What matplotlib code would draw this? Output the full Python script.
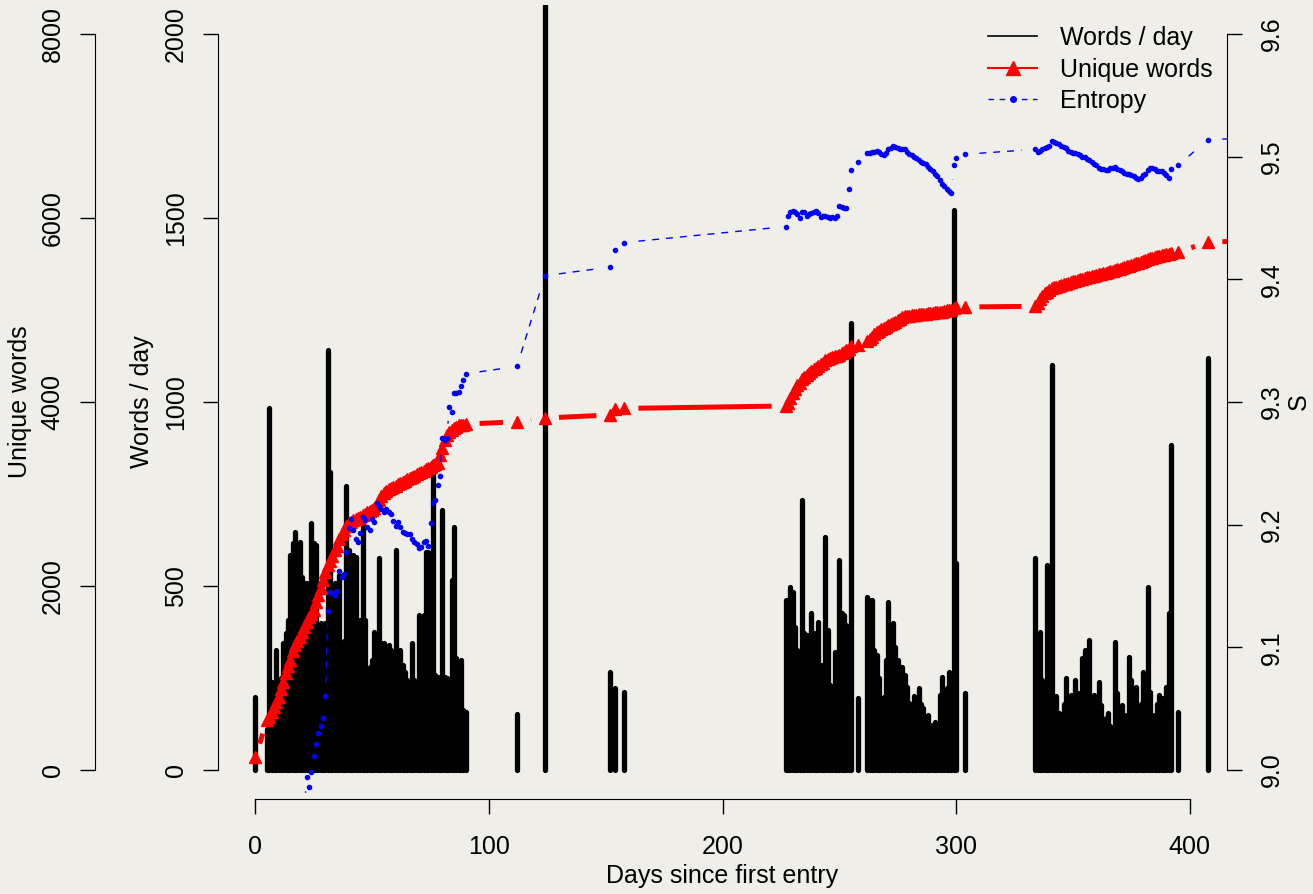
import numpy as np
import matplotlib
matplotlib.use("Agg")
import matplotlib.pyplot as plt
from matplotlib.collections import LineCollection
from matplotlib.lines import Line2D

# entry days (days since first entry)
days = (
    [0, 5, 6, 7, 8, 9,
     10, 11, 12, 13, 14, 15, 16, 17, 18, 19,
     20, 21, 22, 23, 24, 25, 26, 27, 28, 29,
     30, 31, 32, 33, 34, 35, 36, 37, 38, 39,
     40, 41, 42, 43, 44, 45, 46, 47, 48, 49,
     50, 51, 52, 53, 54, 55, 56, 57, 58, 59,
     60, 61, 62, 63, 64, 65, 66, 67, 68, 69,
     70, 71, 72, 73, 74, 75, 76, 77, 78, 79,
     80, 81, 82, 83, 84, 85, 86, 87, 88, 89, 90]
    + [112, 124, 152, 154, 158]
    + [227, 228, 229, 230, 231, 232, 233, 234, 235, 236,
       237, 238, 239, 240, 241, 242, 243, 244, 245, 246,
       247, 248, 249, 250, 251, 252, 253, 254, 255,
       258,
       262, 263, 264, 265, 266, 267, 268, 269, 270, 271,
       272, 273, 274, 275, 276, 277, 278, 279, 280, 281,
       282, 283, 284, 285, 286, 287, 288, 289, 290, 291,
       292, 293, 294, 295, 296, 297, 298, 299, 300,
       304]
    + [334, 335, 336, 337, 338, 339, 340, 341, 342, 343,
       344, 345, 346, 347, 348, 349, 350, 351, 352, 353,
       354, 355, 356, 357, 358, 359, 360, 361, 362, 363,
       364, 365, 366, 367, 368, 369, 370, 371, 372, 373,
       374, 375, 376, 377, 378, 379, 380, 381, 382, 383,
       384, 385, 386, 387, 388, 389, 390, 391, 392,
       395, 408, 425]
)

words = (
    [198, 110, 984, 240, 160, 326,
     118, 250, 345, 372, 408, 584, 617, 647, 524, 620,
     524, 508, 508, 300, 671, 617, 611, 367, 399, 280,
     399, 1141, 810, 260, 508, 320, 530, 300, 350, 772,
     598, 330, 584, 579, 245, 408, 666, 408, 250, 280,
     299, 375, 260, 576, 345, 345, 334, 340, 326, 250,
     598, 285, 326, 285, 266, 245, 200, 345, 245, 163,
     421, 416, 421, 592, 592, 300, 837, 258, 253, 230,
     706, 253, 250, 200, 516, 660, 304, 250, 299, 163, 158]
    + [152, 2300, 266, 223, 212]
    + [462, 386, 497, 484, 389, 326, 321, 734, 372, 367,
       300, 427, 372, 367, 402, 285, 231, 633, 380, 231,
       149, 321, 250, 571, 427, 421, 394, 280, 1215,
       196,
       470, 462, 462, 326, 312, 250, 182, 198, 300, 457,
       362, 399, 335, 300, 280, 280, 258, 226, 182, 168,
       200, 190, 223, 180, 168, 141, 150, 122, 122, 130,
       117, 204, 253, 212, 223, 266, 196, 1522, 562,
       209]
    + [576, 300, 375, 245, 230, 557, 260, 1100, 171, 200,
       155, 117, 180, 250, 145, 204, 190, 245, 209, 149,
       304, 326, 200, 353, 149, 204, 180, 239, 177, 117,
       141, 155, 120, 49, 348, 209, 160, 177, 149, 149,
       307, 245, 209, 226, 145, 180, 266, 209, 497, 212,
       149, 149, 180, 204, 196, 150, 226, 427, 883,
       158, 1120, 300]
)

unique_words = (
    [141, 540, 576, 630, 680, 740,
     790, 880, 960, 1050, 1130, 1190, 1290, 1360, 1400, 1446,
     1500, 1554, 1610, 1663, 1700, 1735, 1830, 1900, 1975, 2060,
     2150, 2230, 2275, 2330, 2395, 2440, 2510, 2570, 2610, 2650,
     2680, 2700, 2715, 2730, 2742, 2755, 2768, 2785, 2800, 2812,
     2825, 2850, 2895, 2940, 2980, 3010, 3035, 3055, 3070, 3080,
     3092, 3105, 3118, 3130, 3145, 3160, 3174, 3188, 3200, 3215,
     3228, 3242, 3255, 3268, 3280, 3295, 3310, 3322, 3337, 3424,
     3500, 3587, 3640, 3674, 3695, 3717, 3730, 3745, 3750, 3755, 3760]
    + [3785, 3826, 3859, 3924, 3930]
    + [3957, 3990, 4040, 4098, 4140, 4180, 4210, 4250, 4270, 4295,
       4315, 4335, 4355, 4375, 4395, 4410, 4425, 4457, 4470, 4480,
       4488, 4495, 4503, 4511, 4530, 4545, 4560, 4575, 4610,
       4625,
       4660, 4685, 4710, 4740, 4760, 4775, 4790, 4805, 4820, 4835,
       4845, 4859, 4872, 4888, 4905, 4924, 4930, 4935, 4940, 4944,
       4948, 4950, 4953, 4956, 4959, 4962, 4965, 4968, 4970, 4973,
       4975, 4978, 4982, 4988, 4995, 5000, 5005, 5022, 5028,
       5033]
    + [5040, 5080, 5120, 5150, 5180, 5200, 5215, 5235, 5245, 5255,
       5262, 5270, 5278, 5288, 5296, 5304, 5312, 5320, 5327, 5333,
       5340, 5348, 5355, 5362, 5368, 5374, 5380, 5387, 5394, 5400,
       5407, 5414, 5420, 5427, 5435, 5442, 5450, 5457, 5465, 5473,
       5482, 5490, 5498, 5506, 5515, 5525, 5534, 5543, 5555, 5563,
       5570, 5577, 5584, 5590, 5595, 5600, 5606, 5612, 5622,
       5630, 5739, 5750]
)

entropy = (
    [8.30, 8.70, 8.74, 8.78, 8.81, 8.84,
     8.86, 8.88, 8.90, 8.91, 8.92, 8.93, 8.94, 8.95, 8.955, 8.96,
     8.965, 8.97, 8.994, 8.986, 8.998, 9.011, 9.021, 9.030, 9.036, 9.042,
     9.060, 9.130, 9.145, 9.144, 9.143, 9.146, 9.162, 9.157, 9.160, 9.178,
     9.197, 9.205, 9.196, 9.188, 9.186, 9.193, 9.206, 9.204, 9.198, 9.196,
     9.205, 9.202, 9.218, 9.215, 9.213, 9.210, 9.213, 9.210, 9.209, 9.203,
     9.199, 9.202, 9.198, 9.194, 9.193, 9.192, 9.192, 9.188, 9.186, 9.184,
     9.181, 9.182, 9.186, 9.187, 9.183, 9.201, 9.218, 9.220, 9.232, 9.240,
     9.271, 9.269, 9.271, 9.296, 9.292, 9.307, 9.307, 9.308, 9.313, 9.318, 9.323]
    + [9.329, 9.403, 9.410, 9.424, 9.430]
    + [9.443, 9.452, 9.455, 9.456, 9.455, 9.453, 9.450, 9.455, 9.455, 9.452,
       9.453, 9.454, 9.455, 9.456, 9.454, 9.451, 9.452, 9.452, 9.451, 9.450,
       9.451, 9.450, 9.452, 9.460, 9.459, 9.458, 9.458, 9.474, 9.489,
       9.496,
       9.503, 9.503, 9.504, 9.504, 9.505, 9.504, 9.502, 9.501, 9.503, 9.506,
       9.507, 9.509, 9.508, 9.507, 9.506, 9.506, 9.506, 9.504, 9.502, 9.501,
       9.500, 9.499, 9.497, 9.496, 9.495, 9.494, 9.492, 9.490, 9.488, 9.486,
       9.484, 9.481, 9.478, 9.476, 9.474, 9.472, 9.470, 9.493, 9.499,
       9.502]
    + [9.506, 9.504, 9.505, 9.506, 9.507, 9.508, 9.509, 9.513, 9.512, 9.511,
       9.510, 9.509, 9.508, 9.507, 9.505, 9.504, 9.503, 9.503, 9.502, 9.501,
       9.500, 9.500, 9.498, 9.497, 9.496, 9.494, 9.493, 9.491, 9.490, 9.490,
       9.489, 9.489, 9.491, 9.491, 9.492, 9.490, 9.489, 9.488, 9.487, 9.486,
       9.486, 9.485, 9.484, 9.483, 9.482, 9.483, 9.485, 9.486, 9.489, 9.491,
       9.491, 9.490, 9.488, 9.488, 9.488, 9.487, 9.485, 9.483, 9.490,
       9.493, 9.514, 9.515]
)

x_ticks = [0, 100, 200, 300, 400]
words_ticks = [0, 500, 1000, 1500, 2000]
unique_ticks = [0, 2000, 4000, 6000, 8000]
entropy_ticks = [9.0, 9.1, 9.2, 9.3, 9.4, 9.5, 9.6]
legend_labels = ["Words / day", "Unique words", "Entropy"]

BG = "#efeee9"
W, H = 1313, 894
FS = 18

plt.rcParams["font.family"] = ["Liberation Sans", "DejaVu Sans"]
plt.rcParams["font.size"] = FS


def gapped_segments(ax, x, y, gap):
    """Segments between consecutive points with a gap (pixels) around each point, like R type='b'."""
    pts = ax.transData.transform(np.column_stack([x, y]))
    inv = ax.transData.inverted()
    segs = []
    for p0, p1 in zip(pts[:-1], pts[1:]):
        d = np.hypot(*(p1 - p0))
        if d > 2 * gap:
            u = (p1 - p0) / d
            segs.append(inv.transform(np.array([p0 + u * gap, p1 - u * gap])))
    return segs


fig = plt.figure(figsize=(W / 100, H / 100), dpi=100)
fig.patch.set_facecolor(BG)
ax = fig.add_axes([218 / W, 1 - 799.4 / H, 1009 / W, 794.8 / H])
ax.patch.set_visible(False)
ax.set_xlim(-16, 416)
ax.set_ylim(-80, 2080)

ax_u = ax.twinx()
ax_u.set_ylim(-320, 8320)
ax_e = ax.twinx()
ax_e.set_ylim(8.976, 9.624)

# words per day as thick vertical lines
ax.vlines(days, 0, words, colors="black", linewidth=3.8, capstyle="round")

# unique words
segs = gapped_segments(ax_u, days, unique_words, 14)
ax_u.add_collection(LineCollection(segs, colors="red", linewidths=3.6))
ax_u.plot(days, unique_words, ls="none", marker="^", ms=8, color="red")

# entropy
segs = gapped_segments(ax_e, days, entropy, 14)
ax_e.add_collection(LineCollection(segs, colors="blue", linewidths=1.0,
                                   linestyles=[(0, (5, 5))]))
ax_e.plot(days, entropy, ls="none", marker="o", ms=3, color="blue")

# axes
for a in (ax, ax_u, ax_e):
    for s in a.spines.values():
        s.set_visible(False)

ax.spines["left"].set_visible(True)
ax.spines["left"].set_bounds(0, 2000)
ax.spines["bottom"].set_visible(True)
ax.spines["bottom"].set_bounds(0, 400)
ax.set_xticks(x_ticks)
ax.set_yticks(words_ticks)
ax.yaxis.tick_left()
ax.tick_params(axis="x", direction="out", length=10.5, width=1, pad=15)
ax.tick_params(axis="y", direction="out", length=10.8, width=1, pad=11,
               labelrotation=90)

ax_u.yaxis.tick_left()
ax_u.yaxis.set_label_position("left")
ax_u.spines["left"].set_visible(True)
ax_u.spines["left"].set_position(("axes", (95 - 218) / 1009))
ax_u.spines["left"].set_bounds(0, 8000)
ax_u.set_yticks(unique_ticks)
ax_u.tick_params(axis="y", direction="out", length=10.8, width=1, pad=11,
                 labelrotation=90)

ax_e.spines["right"].set_visible(True)
ax_e.spines["right"].set_bounds(9.0, 9.6)
ax_e.set_yticks(entropy_ticks, [f"{v:.1f}" for v in entropy_ticks])
ax_e.tick_params(axis="y", direction="out", length=10.8, width=1, pad=13,
                 labelrotation=90)

for a in (ax, ax_u, ax_e):
    for t in a.get_yticklabels():
        t.set_va("center")

ax.set_xlabel("Days since first entry", va="center")
ax.xaxis.set_label_coords(0.5, -0.0965)
ax.set_ylabel("Words / day", va="center")
ax.yaxis.set_label_coords((141.5 - 218) / 1009, 0.5)
ax_u.set_ylabel("Unique words", va="center")
ax_u.yaxis.set_label_coords((20 - 218) / 1009, 0.5)
ax_e.set_ylabel("S", va="center")
ax_e.yaxis.set_label_coords((1299 - 218) / 1009, 0.5)

handles = [
    Line2D([], [], color="black", lw=1.2),
    Line2D([], [], color="red", lw=1.5, marker="^", ms=10),
    Line2D([], [], color="blue", lw=1.0, ls=(0, (4, 4)), marker="o", ms=4),
]
ax_e.legend(handles, legend_labels, loc="upper left",
            bbox_to_anchor=(988 / W, 1 - 26 / H), bbox_transform=fig.transFigure,
            frameon=False, borderpad=0, borderaxespad=0, handlelength=1.96,
            handletextpad=0.92, labelspacing=0.3, fontsize=FS)

fig.savefig("out.png", dpi=100, facecolor=BG)
